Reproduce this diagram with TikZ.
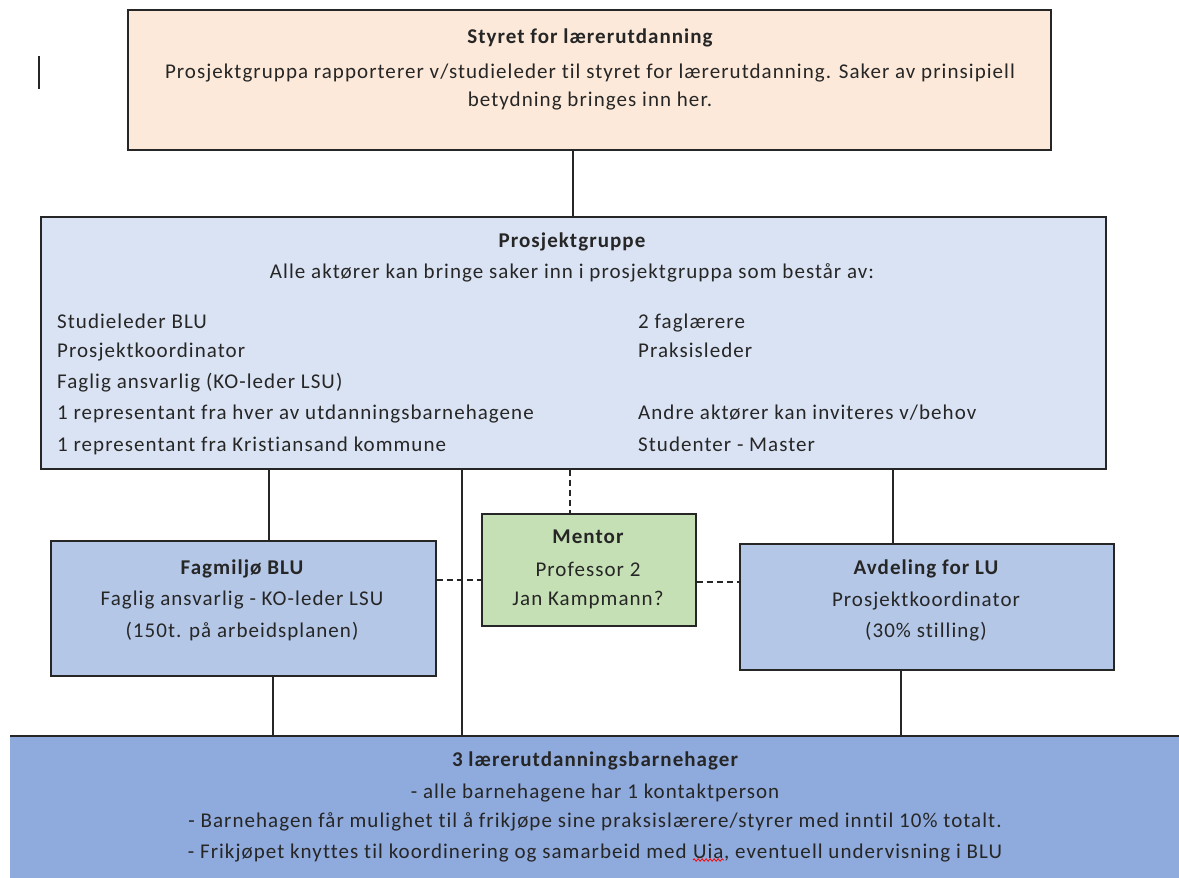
\documentclass[tikz,border=0pt]{standalone}
\usepackage{fontspec}
\setmainfont{Carlito}[LetterSpace=5,Ligatures=NoCommon]
\usetikzlibrary{decorations.pathmorphing}
\definecolor{peach}{HTML}{FCE9D9}
\definecolor{bluelight}{HTML}{DAE3F3}
\definecolor{bluemid}{HTML}{B4C7E7}
\definecolor{bluedark}{HTML}{8FAADC}
\definecolor{greenbox}{HTML}{C5E0B4}
\definecolor{ink}{HTML}{262626}
\begin{document}
\begin{tikzpicture}[x=1pt,y=-1pt,
  box/.style={draw=ink,line width=1.5pt,rectangle,inner sep=0pt,anchor=north west},
  txt/.style={inner sep=0pt,anchor=base,text=ink,font=\fontsize{21}{24}\selectfont},
  ttl/.style={txt,font=\fontsize{21}{24}\selectfont\bfseries},
  lft/.style={txt,anchor=base west},
  conn/.style={draw=ink,line width=1.3pt},
  dconn/.style={conn,dash pattern=on 6pt off 4pt}]
\useasboundingbox (0,0) rectangle (1179,878);

% boxes
\node[box,fill=peach,minimum width=923pt,minimum height=140pt] (sty) at (127,9) {};
\node[box,fill=bluelight,minimum width=1065pt,minimum height=252pt] (pg) at (40,216) {};
\node[box,fill=bluemid,minimum width=385pt,minimum height=135pt] (fag) at (50,540) {};
\node[box,fill=greenbox,minimum width=214pt,minimum height=112pt] (men) at (481,513) {};
\node[box,fill=bluemid,minimum width=374pt,minimum height=126pt] (avd) at (739,543) {};
\node[fill=bluedark,inner sep=0pt,minimum width=1169pt,minimum height=142pt,anchor=north west] (bot) at (10,736) {};
\draw[conn] (bot.north west) -- (bot.north east);

% small bar
\coordinate (bar1) at (39,56);
\coordinate (bar2) at (39,89);
\draw[draw=ink,line width=1.5pt] (bar1) -- (bar2);

% helper coordinates
\coordinate (x1) at (573,0);
\coordinate (xa) at (269,0);
\coordinate (xb) at (462,0);
\coordinate (xc) at (570,0);
\coordinate (xd) at (893,0);
\coordinate (xe) at (273,0);
\coordinate (xf) at (901,0);
\coordinate (ya) at (0,580);
\coordinate (yb) at (0,582);

% connectors
\draw[conn] (sty.south -| x1) -- (pg.north -| x1);
\draw[conn] (pg.south -| xa) -- (fag.north -| xa);
\draw[conn] (pg.south -| xb) -- (bot.north -| xb);
\draw[dconn] (pg.south -| xc) -- (men.north -| xc);
\draw[conn] (pg.south -| xd) -- (avd.north -| xd);
\draw[conn] (fag.south -| xe) -- (bot.north -| xe);
\draw[conn] (avd.south -| xf) -- (bot.north -| xf);
\draw[dconn] (fag.east |- ya) -- (men.west |- ya);
\draw[dconn] (men.east |- yb) -- (avd.west |- yb);

% top box text
\node[ttl] (t1) at (590,43) {Styret for lærerutdanning};
\node[txt] (t2) at (590,78) {Prosjektgruppa rapporterer v/studieleder til styret for lærerutdanning. Saker av prinsipiell};
\node[txt] (t3) at (590,106) {betydning bringes inn her.};

% prosjektgruppe text
\node[ttl] (p1) at (572,247) {Prosjektgruppe};
\node[txt] (p2) at (572,278) {Alle aktører kan bringe saker inn i prosjektgruppa som består av:};
\node[lft] (pl1) at (57,328) {Studieleder BLU};
\node[lft] (pl2) at (57,357) {Prosjektkoordinator};
\node[lft] (pl3) at (57,388) {Faglig ansvarlig (KO-leder LSU)};
\node[lft] (pl4) at (57,419) {1 representant fra hver av utdanningsbarnehagene};
\node[lft] (pl5) at (57,451) {1 representant fra Kristiansand kommune};
\node[lft] (pr1) at (638,328) {2 faglærere};
\node[lft] (pr2) at (638,357) {Praksisleder};
\node[lft] (pr4) at (638,419) {Andre aktører kan inviteres v/behov};
\node[lft] (pr5) at (638,451) {Studenter - Master};

% fagmiljo
\node[ttl] (f1) at (242,574) {Fagmiljø BLU};
\node[txt] (f2) at (242,605) {Faglig ansvarlig - KO-leder LSU};
\node[txt] (f3) at (242,637) {(150t. på arbeidsplanen)};

% mentor
\node[ttl] (m1) at (588,543) {Mentor};
\node[txt] (m2) at (588,576) {Professor 2};
\node[txt] (m3) at (588,605) {Jan Kampmann?};

% avdeling
\node[ttl] (a1) at (926,574) {Avdeling for LU};
\node[txt] (a2) at (926,606) {Prosjektkoordinator};
\node[txt] (a3) at (926,637) {(30\% stilling)};

% bottom
\node[ttl] (b1) at (595,766) {3 lærerutdanningsbarnehager};
\node[txt] (b2) at (595,798) {- alle barnehagene har 1 kontaktperson};
\node[txt] (b3) at (595,827) {- Barnehagen får mulighet til å frikjøpe sine praksislærere/styrer med inntil 10\% totalt.};
\node[txt] (b4) at (595,858) {- Frikjøpet knyttes til koordinering og samarbeid med \tikz[baseline=(u.base)]{\node[inner sep=0pt,text=ink] (u) {Uia}; \draw[red,line width=0.8pt,decorate,decoration={snake,amplitude=1.2pt,segment length=4pt}] ([yshift=-2pt]u.base west) -- ([yshift=-2pt]u.base east);}, eventuell undervisning i BLU};
\end{tikzpicture}
\end{document}
